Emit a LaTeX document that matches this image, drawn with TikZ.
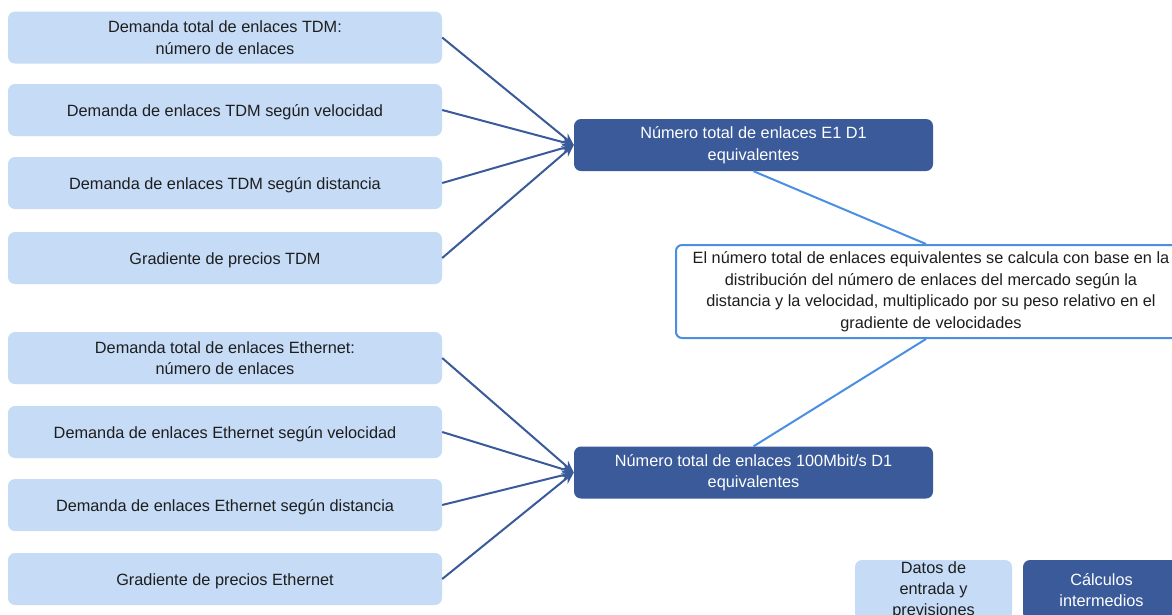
\documentclass[tikz,border=0pt]{standalone}
\usepackage{fontspec}
\setmainfont{Liberation Sans}
\usetikzlibrary{arrows.meta}
\definecolor{lightfill}{HTML}{C5DBF6}
\definecolor{darkfill}{HTML}{3A5A9A}
\definecolor{commentline}{HTML}{4A8FE2}
\definecolor{txt}{HTML}{1E1E1E}
\tikzset{
  lower/.style={execute at begin node={\rule{0pt}{17pt}}},
  inbox/.style={lower, fill=lightfill, draw=none, rounded corners=7pt, minimum width=434pt, minimum height=52pt, align=center, text=txt, font=\fontsize{16.3}{21.5}\selectfont, inner sep=0pt},
  calcbox/.style={lower, fill=darkfill, draw=none, rounded corners=7pt, minimum width=359pt, minimum height=52pt, align=center, text=white, font=\fontsize{16.3}{21.5}\selectfont, inner sep=0pt},
  notebox/.style={lower, fill=white, draw=commentline, line width=2pt, rounded corners=6pt, minimum width=510pt, minimum height=93pt, align=center, text=txt, font=\fontsize{16.3}{21.5}\selectfont, inner sep=0pt},
  feed/.style={draw=darkfill, line width=2pt, -{Stealth[length=12pt,width=10pt]}},
  noteline/.style={draw=commentline, line width=2pt},
  legin/.style={lower, fill=lightfill, draw=none, rounded corners=7pt, minimum width=157pt, minimum height=60pt, align=center, text=txt, font=\fontsize{16.3}{21}\selectfont, inner sep=0pt},
  legcalc/.style={fill=darkfill, draw=none, rounded corners=7pt, minimum width=157pt, minimum height=60pt, align=center, text=white, font=\fontsize{16.3}{21}\selectfont, inner sep=0pt}
}
\begin{document}
\begin{tikzpicture}[x=1pt,y=-1pt]
\useasboundingbox (0,0) rectangle (1172,614);
\clip (0,0) rectangle (1172,614);
\fill[white] (0,0) rectangle (1172,614);

\node[inbox] (a1) at (225,37.5) {Demanda total de enlaces TDM:\\número de enlaces};
\node[inbox] (a2) at (225,110) {Demanda de enlaces TDM según velocidad};
\node[inbox] (a3) at (225,183) {Demanda de enlaces TDM según distancia};
\node[inbox] (a4) at (225,258) {Gradiente de precios TDM};

\node[inbox] (b1) at (225,358) {Demanda total de enlaces Ethernet:\\número de enlaces};
\node[inbox] (b2) at (225,432) {Demanda de enlaces Ethernet según velocidad};
\node[inbox] (b3) at (225,505) {Demanda de enlaces Ethernet según distancia};
\node[inbox] (b4) at (225,579) {Gradiente de precios Ethernet};

\node[calcbox] (d1) at (753.5,145) {Número total de enlaces E1 D1\\equivalentes};
\node[calcbox] (d2) at (753.5,472.5) {Número total de enlaces 100Mbit/s D1\\equivalentes};

\node[notebox] (c) at (931,291.5) {El número total de enlaces equivalentes se calcula con base en la\\distribución del número de enlaces del mercado según la\\distancia y la velocidad, multiplicado por su peso relativo en el\\gradiente de velocidades};

\foreach \n in {a1,a2,a3,a4} \draw[feed] (\n.east) -- (d1.west);
\foreach \n in {b1,b2,b3,b4} \draw[feed] (\n.east) -- (d2.west);

\draw[noteline] (d1.south) -- ([xshift=-5pt]c.north);
\draw[noteline] ([xshift=-5pt]c.south) -- (d2.north);

\node[legin] (l1) at (933.5,590) {Datos de\\entrada y\\previsiones};
\node[legcalc] (l2) at (1101.5,590) {Cálculos\\intermedios};
\end{tikzpicture}
\end{document}
